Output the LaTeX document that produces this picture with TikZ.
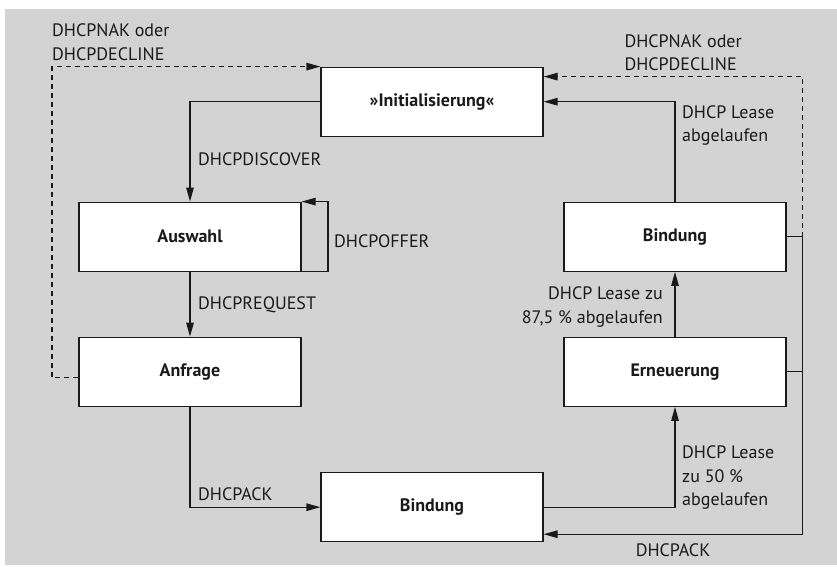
\documentclass[tikz,border=0pt]{standalone}
\usepackage{fontspec}
\setmainfont{PT Sans}
\usetikzlibrary{arrows.meta}
\definecolor{bg}{RGB}{211,211,211}
\definecolor{ink}{RGB}{26,26,26}
\begin{document}
\begin{tikzpicture}[x=1pt,y=-1pt,
  state/.style={draw=ink, fill=white, line width=1.2pt, minimum width=222pt,
    minimum height=69pt, inner sep=0pt, text=ink,
    font=\fontsize{18}{20}\selectfont\bfseries},
  lbl/.style={inner sep=0pt, text=ink, font=\fontsize{18}{23.4}\selectfont},
  plain/.style={draw=ink, line width=1.2pt},
  flow/.style={plain, -{Triangle[length=14pt,width=7.5pt]}},
  nak/.style={flow, dash pattern=on 5pt off 4pt}]
\useasboundingbox (0,0) rectangle (837,566);
\fill[bg] (5,9) rectangle (837,565);

% states
\node[state] (init)  at (432,101.7) {»Initialisierung«};
\node[state] (ausw)  at (190,236.7) {Auswahl};
\node[state] (anfr)  at (190,371.7) {Anfrage};
\node[state] (bindA) at (432,507.2) {Bindung};
\node[state] (bindB) at (675,236.7) {Bindung};
\node[state] (ern)   at (675,371.7) {Erneuerung};

% helper points for the outer lines
\coordinate (offer) at (328,236.7);
\coordinate (nakL)  at (52,236.7);
\coordinate (rt)    at (802.7,236.7);

% main transitions
\draw[flow] (init.west) -| (ausw.north);
\draw[flow] (ausw.south) -- (anfr.north);
\draw[flow] (anfr.south) |- (bindA.west);
\draw[flow] (bindA.east) -| (ern.south);
\draw[flow] (ern.north) -- (bindB.south);
\draw[flow] (bindB.north) |- (init.east);
\draw[flow] (ausw.south east) -| (offer) |- (ausw.north east);

% NAK / DECLINE returns
\draw[nak] ([yshift=-6pt]anfr.west) -| (nakL |- init.north) -- (init.north west);
\draw[nak] (rt) |- ([yshift=-10pt]init.north east);

% DHCPACK return on the right
\draw[plain] (bindB.east) -- (rt);
\draw[plain] (ern.east) -- (ern.east -| rt);
\draw[flow] (rt) |- ([yshift=-27pt]bindA.east);

% labels (base anchor of a multi-line node = baseline of its last line)
\node[lbl, anchor=base west, align=left] (tNakL) at (52,60) {DHCPNAK oder\\DHCPDECLINE};
\node[lbl, anchor=base west, align=left] (tNakR) at (624.3,70.7) {DHCPNAK oder\\DHCPDECLINE};
\node[lbl, anchor=base west] (tDisc) at (198,165) {DHCPDISCOVER};
\node[lbl, anchor=base west] (tOffer) at (334,247.3) {DHCPOFFER};
\node[lbl, anchor=base west] (tReq) at (198,309.3) {DHCPREQUEST};
\node[lbl, anchor=base west] (tAckL) at (198,500.7) {DHCPACK};
\node[lbl, anchor=base] (tAckR) at (673,556.7) {DHCPACK};
\node[lbl, anchor=base west, align=left] (tExp) at (682,141.7) {DHCP Lease\\abgelaufen};
\node[lbl, anchor=base east, align=right] (t875) at (663,323.3) {DHCP Lease zu\\87,5 \% abgelaufen};
\node[lbl, anchor=base west, align=left] (t50) at (682,505.5) {DHCP Lease\\zu 50 \%\\abgelaufen};
\end{tikzpicture}
\end{document}
